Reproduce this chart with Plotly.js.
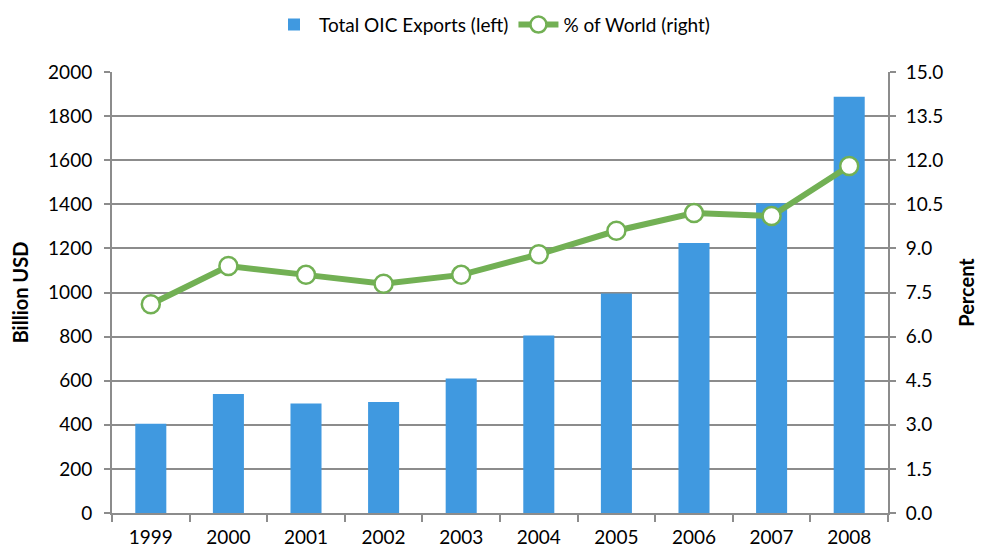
<!DOCTYPE html>
<html>
<head>
<meta charset="utf-8">
<script src="https://cdn.plot.ly/plotly-3.0.1.min.js"></script>
<style>body{margin:0;background:#fff}#chart{width:984px;height:550px}</style>
</head>
<body>
<div id="chart"></div>
<script>
// values
var years = ['1999', '2000', '2001', '2002', '2003', '2004', '2005', '2006', '2007', '2008'];
var exportsBn = [405, 540, 497, 503, 610, 805, 995, 1225, 1405, 1888];
var worldPct = [7.1, 8.4, 8.1, 7.8, 8.1, 8.8, 9.6, 10.2, 10.1, 11.8];

var leftTicks = [0, 200, 400, 600, 800, 1000, 1200, 1400, 1600, 1800, 2000];
var rightTicks = [0, 1.5, 3, 4.5, 6, 7.5, 9, 10.5, 12, 13.5, 15];

var fontFam = 'Lato, "Open Sans", sans-serif';

var data = [
  {
    type: 'bar',
    x: years,
    y: exportsBn,
    name: 'Total OIC Exports (left)',
    marker: {color: '#4099e0'},
    yaxis: 'y'
  },
  {
    type: 'scatter',
    mode: 'lines+markers',
    x: years,
    y: worldPct,
    name: '% of World (right)',
    line: {color: '#72b054', width: 6},
    marker: {size: 18, color: '#ffffff', line: {color: '#72b054', width: 2.5}},
    yaxis: 'y2'
  }
];

var layout = {
  width: 984,
  height: 550,
  margin: {l: 112, r: 96, t: 72, b: 37, autoexpand: false},
  paper_bgcolor: '#fff',
  plot_bgcolor: '#fff',
  font: {family: fontFam, size: 19, color: '#000'},
  bargap: 0.6,
  showlegend: true,
  legend: {
    orientation: 'h',
    x: 0.5, xanchor: 'center',
    xref: 'container',
    yref: 'container',
    y: 0.955, yanchor: 'middle',
    font: {size: 19},
    itemwidth: 40,
    traceorder: 'normal'
  },
  xaxis: {
    type: 'category',
    range: [-0.5, years.length - 0.5],
    showline: true,
    linecolor: '#8c8c8c',
    linewidth: 2,
    ticks: 'outside',
    tickson: 'boundaries',
    ticklen: 7,
    tickcolor: '#8c8c8c',
    tickwidth: 2,
    ticklabelstandoff: 6,
    showgrid: false
  },
  yaxis: {
    range: [0, 2000],
    tickvals: leftTicks,
    showline: true,
    linecolor: '#8c8c8c',
    linewidth: 2,
    ticks: 'outside',
    ticklen: 6,
    tickcolor: '#8c8c8c',
    tickwidth: 2,
    ticklabelstandoff: 8,
    gridcolor: '#8c8c8c',
    gridwidth: 2,
    zeroline: false,
    title: {text: '<b>Billion USD</b>', font: {size: 20}, standoff: 14}
  },
  yaxis2: {
    overlaying: 'y',
    side: 'right',
    range: [0, 15],
    tickvals: rightTicks,
    ticktext: rightTicks.map(function (v) { return v.toFixed(1); }),
    showline: true,
    linecolor: '#8c8c8c',
    linewidth: 2,
    ticks: 'outside',
    ticklen: 6,
    tickcolor: '#8c8c8c',
    tickwidth: 2,
    ticklabelstandoff: 6,
    showgrid: false,
    zeroline: false,
    title: {text: '<b>Percent</b>', font: {size: 20}, standoff: 18}
  }
};

Plotly.newPlot('chart', data, layout, {displayModeBar: false});
</script>
</body>
</html>
